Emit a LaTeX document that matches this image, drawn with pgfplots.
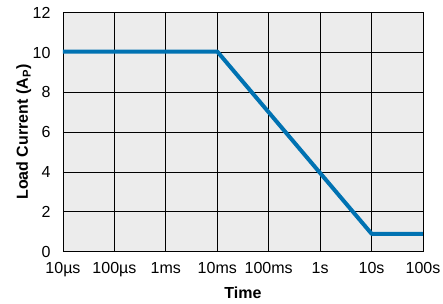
\documentclass[border=0pt]{standalone}
\usepackage{fontspec}
\setmainfont{Liberation Sans}
\usepackage{pgfplots}
\pgfplotsset{compat=1.18}
\definecolor{lineblue}{RGB}{0,114,178}
\definecolor{bg}{RGB}{236,236,236}
\begin{document}
\fontsize{16bp}{19bp}\selectfont
\begin{tikzpicture}
\begin{axis}[
  scale only axis, width=360bp, height=239bp,
  xmode=log, xmin=1e-5, xmax=100, ymin=0, ymax=12,
  xtick={1e-5,1e-4,1e-3,1e-2,1e-1,1,10,100},
  xticklabels={10µs,100µs,1ms,10ms,100ms,1s,10s,100s},
  ytick={0,2,4,6,8,10,12},
  xminorticks=false, yminorticks=false,
  grid=major, major grid style={black, line width=0.8bp},
  axis line style={black, line width=0.8bp},
  major tick length=0pt, minor tick length=0pt,
  axis background/.style={fill=bg},
  tick label style={font=\fontsize{16bp}{19bp}\selectfont},
  /pgf/number format/assume math mode=true,
  xticklabel style={yshift=-5bp},
  yticklabel style={xshift=-7bp},
  every axis x label/.style={at={(axis description cs:0.5,0)}, anchor=base, yshift=-46.3bp, font=\fontsize{16bp}{19bp}\selectfont\bfseries},
  every axis y label/.style={at={([xshift=-35bp]axis description cs:0,0.5)}, rotate=90, anchor=base, font=\fontsize{16bp}{19bp}\selectfont\bfseries},
  xlabel={Time},
  ylabel={Load Current (A\textsubscript{P})},
]
\addplot[lineblue, line width=4bp, line join=round] coordinates {(1e-5,10.05) (1e-2,10.05) (10,0.9) (100,0.9)};
\end{axis}
\pgfresetboundingbox
\path (-63bp,-52.3bp) rectangle (380bp,251.7bp);
\end{tikzpicture}
\end{document}
